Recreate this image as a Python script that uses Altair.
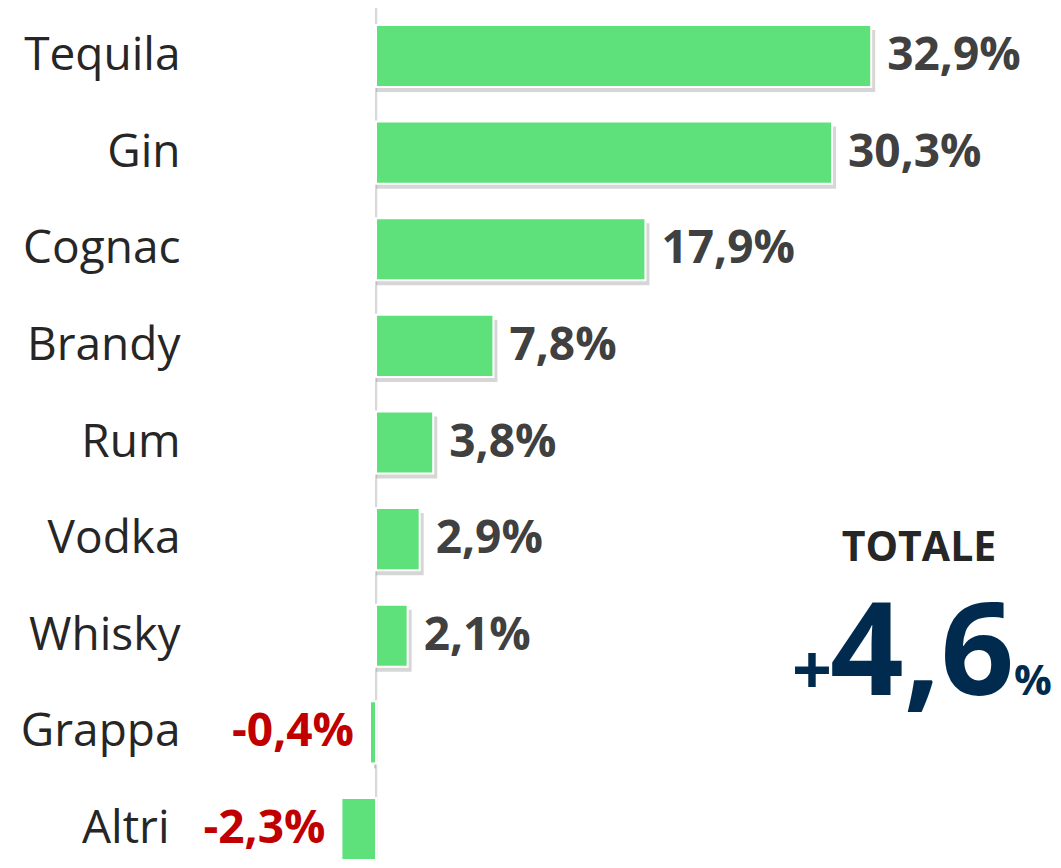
import altair as alt
import pandas as pd

categories = ["Tequila", "Gin", "Cognac", "Brandy", "Rum", "Vodka", "Whisky", "Grappa", "Altri"]
values = [32.9, 30.3, 17.9, 7.8, 3.8, 2.9, 2.1, -0.4, -2.3]
total_label = "TOTALE"
total_value = "4,6"

df = pd.DataFrame({
    "cat": categories,
    "val": values,
    "zero": [0.0] * len(values),
    "label": [f"{v:.1f}%".replace(".", ",") for v in values],
})

FONT = "Open Sans"
W, H = 863, 835
TOP = 17
XDOM = [-12.36, 44.98]

xs = alt.Scale(domain=XDOM, nice=False, zero=False)
x = alt.X("val:Q", scale=xs, axis=None)
y = alt.Y("cat:N", sort=categories,
          scale=alt.Scale(paddingInner=0.358, paddingOuter=0),
          axis=alt.Axis(title=None, ticks=False, domain=False, grid=False,
                        labelPadding={"condition": {"test": "datum.value == 'Altri'", "value": 21}, "value": 10},
                        labelFont=FONT, labelFontSize=46, labelColor="#262626",
                        labelBaseline="middle", labelAlign="right"))

base = alt.Chart(df)

shadow = base.mark_bar(color="#8a8a8a", opacity=0.35, xOffset=4, yOffset=5).encode(
    x=x, x2="zero:Q", y=y)

bars = base.mark_bar(color="#5EE07A", stroke="#ffffff", strokeWidth=2).encode(
    x=x, x2="zero:Q", y=y)

zero = base.mark_rule(color="#d9d9d9", strokeWidth=2).encode(
    x=alt.X("zero:Q", scale=xs, axis=None),
    y=alt.value(-TOP), y2=alt.value(868 - 8 - TOP))

pos_labels = base.transform_filter("datum.val >= 0").mark_text(
    align="left", baseline="middle", dx=16, font=FONT, fontSize=46, fontWeight="bold",
    color="#404040").encode(x=x, y=y, text="label:N")

neg_labels = base.transform_filter("datum.val < 0").mark_text(
    align="right", baseline="middle", dx=-16, font=FONT, fontSize=46, fontWeight="bold",
    color="#C00000").encode(x=x, y=y, text="label:N")

tx = pd.DataFrame({"t": [total_label], "v": [total_value]})
totale = alt.Chart(tx).mark_text(
    align="center", baseline="alphabetic", font=FONT, fontSize=41, fontWeight="bold",
    color="#262626").encode(x=alt.value(729), y=alt.value(561 - 8 - TOP), text="t:N")

plus = alt.Chart(tx).mark_text(
    align="right", baseline="alphabetic", font=FONT, fontSize=70, fontWeight="bold",
    color="#002B4F", text="+").encode(x=alt.value(642), y=alt.value(695 - 8 - TOP))

big = alt.Chart(tx).mark_text(
    align="left", baseline="alphabetic", font=FONT, fontSize=129, fontWeight="bold",
    color="#002B4F").encode(x=alt.value(640), y=alt.value(695 - 8 - TOP), text="v:N")

pct = alt.Chart(tx).mark_text(
    align="left", baseline="alphabetic", font=FONT, fontSize=42, fontWeight="bold",
    color="#002B4F", text="%").encode(x=alt.value(824), y=alt.value(695 - 8 - TOP))

chart = alt.layer(zero, shadow, bars, pos_labels, neg_labels, totale, plus, big, pct).properties(
    width=W, height=H,
    autosize=alt.AutoSizeParams(type="none"),
    padding={"left": 182, "top": TOP, "right": 0, "bottom": 0},
).configure_view(stroke=None)

chart.save("out.html", embed_options={"renderer": "svg", "actions": False})
